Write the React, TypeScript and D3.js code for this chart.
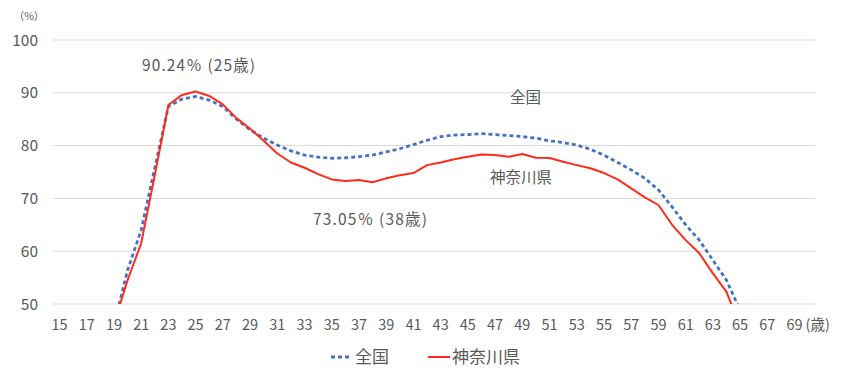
import * as React from 'react';
import * as d3 from 'd3';

const ages = d3.range(15, 71);
const lineAges = d3.range(19, 66);
const zenkoku = [
  46.0, 56.4, 64.0, 75.8, 87.4, 88.8, 89.3, 88.6, 87.4, 85.0,
  83.0, 81.4, 80.1, 79.0, 78.2, 77.8, 77.6, 77.7, 77.9, 78.2,
  78.8, 79.4, 80.2, 81.0, 81.7, 82.0, 82.1, 82.25, 82.1, 81.9,
  81.7, 81.4, 80.9, 80.6, 80.1, 79.3, 78.2, 76.8, 75.4, 73.8,
  71.6, 68.4, 65.0, 62.1, 58.3, 54.5, 48.8,
];
const kanagawa = [
  46.3, 54.5, 61.5, 74.4, 87.7, 89.6, 90.24, 89.4, 87.8, 85.2,
  83.2, 80.9, 78.5, 76.8, 75.8, 74.6, 73.6, 73.3, 73.5, 73.05,
  73.8, 74.4, 74.8, 76.3, 76.8, 77.4, 77.9, 78.3, 78.2, 77.9,
  78.4, 77.7, 77.65, 76.95, 76.3, 75.7, 74.8, 73.6, 71.9, 70.2,
  68.75, 65.0, 62.1, 59.6, 55.8, 52.3, 45.7,
];
const yTicks = [50, 60, 70, 80, 90, 100];
const seriesNames = ['全国', '神奈川県'];

const W = 858;
const H = 392;
const TEXT = '#595959';
const BLUE = '#4472c4';
const RED = '#ff2a1a';
const FONT = '"Noto Sans CJK JP", "Noto Sans", sans-serif';

export default function App() {
  const ref = React.useRef<SVGSVGElement | null>(null);

  React.useEffect(() => {
    if (!ref.current) return;
    const svg = d3.select(ref.current);
    svg.selectAll('*').remove();

    const left = 52.7;
    const right = 815;
    const top = 40;
    const bottom = 304;

    const x = d3.scaleBand<number>().domain(ages).range([left, right]).padding(0);
    const cx = (a: number) => (x(a) ?? 0) + x.bandwidth() / 2;
    const y = d3.scaleLinear().domain([50, 100]).range([bottom, top]);

    // grid
    svg.append('g')
      .selectAll('line')
      .data(yTicks)
      .join('line')
      .attr('x1', left)
      .attr('x2', right)
      .attr('y1', d => y(d))
      .attr('y2', d => y(d))
      .attr('stroke', '#d9d9d9')
      .attr('stroke-width', 1);

    // y labels
    svg.append('g')
      .selectAll('text')
      .data(yTicks)
      .join('text')
      .attr('x', 38)
      .attr('y', d => y(d) + 5.5)
      .attr('text-anchor', 'end')
      .attr('font-size', 15.5)
      .attr('fill', TEXT)
      .text(d => d);

    svg.append('text')
      .attr('x', 29).attr('y', 20)
      .attr('text-anchor', 'middle')
      .attr('font-size', 10.5)
      .attr('fill', TEXT)
      .text('（%）');

    // x labels
    const labelAges = ages.filter(a => a % 2 === 1 && a <= 69);
    svg.append('g')
      .selectAll('text')
      .data(labelAges)
      .join('text')
      .attr('x', d => cx(d))
      .attr('y', 330)
      .attr('text-anchor', 'middle')
      .attr('font-size', 14.5)
      .attr('fill', TEXT)
      .text(d => d);
    svg.append('text')
      .attr('x', cx(69) + 11).attr('y', 330)
      .attr('font-size', 14.5)
      .attr('fill', TEXT)
      .text('(歳)');

    svg.append('defs').append('clipPath').attr('id', 'plot')
      .append('rect')
      .attr('x', left).attr('y', top - 5)
      .attr('width', right - left).attr('height', bottom - top + 5);

    const line = d3.line<number>()
      .x((_, i) => cx(lineAges[i]))
      .y(d => y(d));

    const g = svg.append('g').attr('clip-path', 'url(#plot)');
    g.append('path')
      .attr('d', line(zenkoku) || '')
      .attr('fill', 'none')
      .attr('stroke', BLUE)
      .attr('stroke-width', 2.8)
      .attr('stroke-dasharray', '4 3');
    g.append('path')
      .attr('d', line(kanagawa) || '')
      .attr('fill', 'none')
      .attr('stroke', RED)
      .attr('stroke-width', 2)
      .attr('stroke-linejoin', 'round');

    // annotations
    const note = (tx: number, ty: number, s: string, len?: number) => {
      const t = svg.append('text').attr('x', tx).attr('y', ty)
        .attr('font-size', 15.5).attr('fill', TEXT).text(s);
      if (len) t.attr('textLength', len).attr('lengthAdjust', 'spacing');
      return t;
    };
    note(142, 71, '90.24％ (25歳)', 113);
    note(510, 103, '全国');
    note(490, 183, '神奈川県');
    note(313, 225, '73.05％ (38歳)', 114);

    // legend
    const lg = svg.append('g').attr('font-size', 17).attr('fill', TEXT);
    lg.append('line')
      .attr('x1', 331).attr('x2', 351).attr('y1', 357).attr('y2', 357)
      .attr('stroke', BLUE).attr('stroke-width', 2.8).attr('stroke-dasharray', '4 3');
    lg.append('text').attr('x', 355).attr('y', 363).text(seriesNames[0]);
    lg.append('line')
      .attr('x1', 428).attr('x2', 450).attr('y1', 357).attr('y2', 357)
      .attr('stroke', RED).attr('stroke-width', 2);
    lg.append('text').attr('x', 452).attr('y', 363).text(seriesNames[1]);
  }, []);

  return (
    <svg
      ref={ref}
      width={W}
      height={H}
      viewBox={`0 0 ${W} ${H}`}
      style={{ position: 'absolute', left: 0, top: 0, fontFamily: FONT, background: '#fff' }}
    />
  );
}
